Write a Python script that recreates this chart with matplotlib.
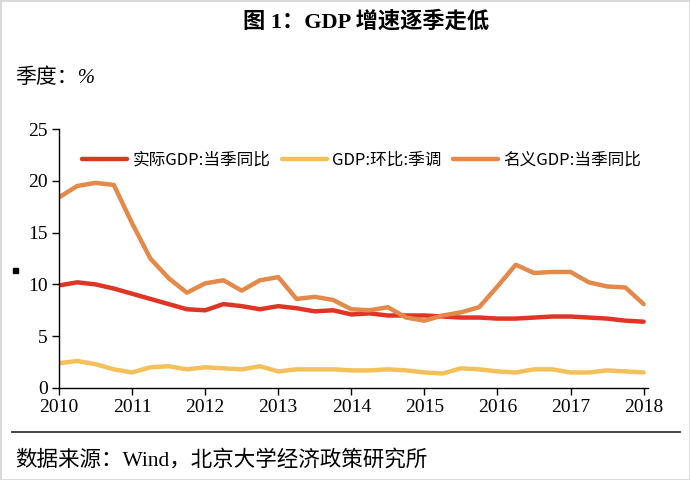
import numpy as np
import matplotlib.pyplot as plt
from matplotlib.patches import Rectangle
from matplotlib.lines import Line2D

# quarterly, 2010Q1 .. 2018Q1
real_yoy = [9.9, 10.2, 10.0, 9.6,
            9.1, 8.6, 8.1, 7.6,
            7.5, 8.1, 7.9, 7.6,
            7.9, 7.7, 7.4, 7.5,
            7.1, 7.2, 7.0, 7.0,
            7.0, 6.9, 6.8, 6.8,
            6.7, 6.7, 6.8, 6.9,
            6.9, 6.8, 6.7, 6.5,
            6.4]
qoq_sa = [2.4, 2.6, 2.3, 1.8,
          1.5, 2.0, 2.1, 1.8,
          2.0, 1.9, 1.8, 2.1,
          1.6, 1.8, 1.8, 1.8,
          1.7, 1.7, 1.8, 1.7,
          1.5, 1.4, 1.9, 1.8,
          1.6, 1.5, 1.8, 1.8,
          1.5, 1.5, 1.7, 1.6,
          1.5]
nominal_yoy = [18.4, 19.5, 19.8, 19.6,
               15.9, 12.5, 10.6, 9.2,
               10.1, 10.4, 9.4, 10.4,
               10.7, 8.6, 8.8, 8.5,
               7.6, 7.5, 7.8, 6.8,
               6.5, 7.0, 7.3, 7.8,
               9.8, 11.9, 11.1, 11.2,
               11.2, 10.2, 9.8, 9.7,
               8.1]
labels = ['实际GDP:当季同比', 'GDP:环比:季调', '名义GDP:当季同比']
colors = ['#DE3524', '#F4C05A', '#E3894A']
years = list(range(2010, 2019))

t = 2010 + np.arange(len(real_yoy)) / 4.0

serif = ['Liberation Serif', 'Noto Sans CJK SC']
cjk = ['Noto Sans CJK SC', 'DejaVu Sans']

fig = plt.figure(figsize=(6.9, 4.8), dpi=100)
ax = fig.add_axes([59/690, 1-388/480, 589/690, 259/480])

for y, c, lab in zip([real_yoy, qoq_sa, nominal_yoy], colors, labels):
    ax.plot(t, y, color=c, lw=3.2, label=lab, solid_capstyle='round')

ax.set_xlim(2010, 2018.06)
ax.set_ylim(0, 25)
ax.set_xticks(years)
ax.set_xticklabels([str(y) for y in years], family=serif, fontsize=14)
ax.set_yticks(range(0, 26, 5))
ax.set_yticklabels([str(v) for v in range(0, 26, 5)], family=serif, fontsize=14)
for s in ['top', 'right']:
    ax.spines[s].set_visible(False)
for s in ['left', 'bottom']:
    ax.spines[s].set_linewidth(1.0)
ax.tick_params(direction='out', length=5, width=1, pad=3)

leg = fig.legend(loc='center', bbox_to_anchor=(0.524, 1-160/480), ncol=3,
                 frameon=False, prop={'family': cjk, 'size': 12},
                 handlelength=2.7, handletextpad=0.3, columnspacing=0.7)

fig.text(0.53, 1-22/480, '图 1：GDP 增速逐季走低', ha='center', va='center',
         family=serif, fontsize=16, fontweight='bold')
fig.text(15/690, 1-78/480, '季度：%', ha='left', va='center',
         family=serif, fontsize=15, style='italic')
fig.text(15/690, 1-460/480, '数据来源：Wind，北京大学经济政策研究所', ha='left', va='center',
         family=serif, fontsize=15.5)

fig.add_artist(Line2D([12/690, 680/690], [1-432/480, 1-432/480], color='#333333', lw=1.3))
fig.add_artist(Rectangle((13/690, 1-273/480), 5/690, 5/480, color='black'))
fig.add_artist(Rectangle((0, 0), 1, 1, fill=False, edgecolor='#d8d8d8', lw=2))

fig.savefig('out.png', dpi=100)
